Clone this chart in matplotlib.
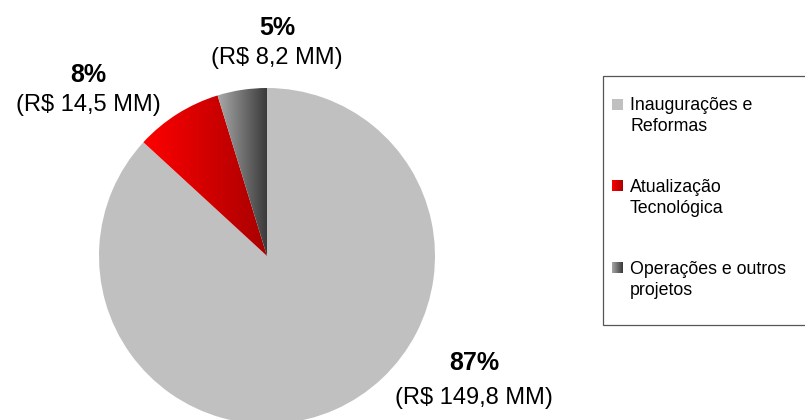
import numpy as np
import matplotlib
matplotlib.use("Agg")
import matplotlib.pyplot as plt
from matplotlib.colors import LinearSegmentedColormap
from matplotlib.patches import Rectangle

plt.rcParams["font.family"] = ["Liberation Sans", "DejaVu Sans"]

# data
categories = ["Inaugurações e\nReformas", "Atualização\nTecnológica",
              "Operações e outros\nprojetos"]
values = [149.8, 14.5, 8.2]
pct_labels = ["87%", "8%", "5%"]
money_labels = ["(R$ 149,8 MM)", "(R$ 14,5 MM)", "(R$ 8,2 MM)"]

# style
W, H = 805, 420
GRAY = "#c0c0c0"
RED_CMAP = LinearSegmentedColormap.from_list("red", ["#ff0000", "#a80000"])
DARK_CMAP = LinearSegmentedColormap.from_list("dark", ["#a8a8a8", "#383838"])
CMAPS = [None, RED_CMAP, DARK_CMAP]
CENTER = (267, H - 256)
RADIUS = 168
# (x, y of percent, y of amount) in pixels from top
LABEL_POS = [(474, 363, 398), (88, 75, 105), (277, 28, 58)]
LEGEND_Y = [104, 186, 268]   # first text line of each entry
LINE_GAP = 24

fig = plt.figure(figsize=(W / 100, H / 100), dpi=100)
ax = fig.add_axes([0, 0, 1, 1])

wedges, _ = ax.pie(values, colors=[GRAY, GRAY, GRAY], startangle=90,
                   counterclock=False, center=CENTER, radius=RADIUS,
                   wedgeprops=dict(linewidth=0), frame=True)
ax.set_xlim(0, W)
ax.set_ylim(0, H)
ax.set_aspect("equal")
ax.axis("off")

# gradient fills clipped to the wedges
grad = np.linspace(0, 1, 256).reshape(1, -1)
for w, cmap in zip(wedges, CMAPS):
    if cmap is None:
        continue
    w.set_facecolor("none")
    bb = w.get_path().get_extents(w.get_transform() - ax.transData)
    im = ax.imshow(grad, cmap=cmap, aspect="auto",
                   extent=[bb.x0, bb.x1, bb.y0, bb.y1], zorder=1)
    im.set_clip_path(w)

for (x, y1, y2), p, m in zip(LABEL_POS, pct_labels, money_labels):
    ax.text(x, H - y1, p, ha="center", va="center", fontsize=18,
            fontweight="bold")
    ax.text(x, H - y2, m, ha="center", va="center", fontsize=17)

# legend box
ax.add_patch(Rectangle((603, H - 325), 220, 249, facecolor="white",
                       edgecolor="#555555", lw=0.9, clip_on=False))
for ym, name, cmap in zip(LEGEND_Y, categories, CMAPS):
    x0, s = 612, 11
    if cmap is None:
        ax.add_patch(Rectangle((x0, H - ym - s / 2), s, s, facecolor=GRAY,
                               lw=0, zorder=3))
    else:
        ax.imshow(grad, cmap=cmap, aspect="auto", zorder=3,
                  extent=[x0, x0 + s, H - ym - s / 2, H - ym + s / 2])
    ax.text(630, H - ym - LINE_GAP / 2, name, ha="left", va="center",
            fontsize=12.8, linespacing=1.38)

ax.set_xlim(0, W)
ax.set_ylim(0, H)
fig.savefig("out.png", dpi=100)
